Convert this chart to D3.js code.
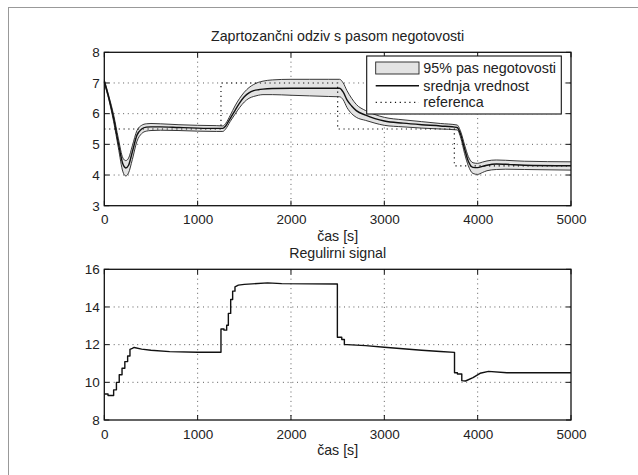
<!DOCTYPE html>
<html><head><meta charset="utf-8">
<script src="https://cdn.jsdelivr.net/npm/d3@7/dist/d3.min.js"></script>
<style>body{margin:0;background:#fff}svg{display:block}text{font-family:"Liberation Sans",Arial,sans-serif;fill:#222}</style>
</head><body><svg id="c" width="638" height="475"></svg>
<script>
// ---- Top plot data (closed-loop response with 95% band) ----
const tResp = [0,50,100,150,200,230,260,300,350,400,450,500,600,800,1000,1200,1270,1300,1350,1400,1450,1500,1550,1600,1650,1700,1800,2000,2200,2400,2520,2560,2600,2650,2700,2800,2900,3000,3200,3400,3600,3780,3820,3860,3900,3950,4000,4050,4100,4200,4300,4500,5000];
const meanResp = [7.05,6.5,5.85,5.05,4.35,4.23,4.32,4.75,5.3,5.5,5.56,5.57,5.57,5.55,5.53,5.52,5.52,5.6,5.85,6.1,6.35,6.55,6.68,6.75,6.78,6.8,6.82,6.83,6.83,6.83,6.83,6.7,6.45,6.25,6.1,5.95,5.84,5.76,5.69,5.64,5.6,5.55,5.3,4.85,4.45,4.25,4.24,4.28,4.32,4.36,4.35,4.32,4.3];
const upperResp = [7.1,6.56,5.96,5.2,4.55,4.47,4.55,4.95,5.45,5.62,5.67,5.68,5.67,5.64,5.62,5.61,5.6,5.68,5.95,6.25,6.5,6.7,6.85,6.95,7.02,7.06,7.1,7.12,7.12,7.12,7.12,7.0,6.75,6.5,6.3,6.1,5.97,5.88,5.8,5.74,5.68,5.63,5.4,4.98,4.6,4.4,4.38,4.42,4.46,4.49,4.48,4.45,4.43];
const lowerResp = [7.0,6.44,5.74,4.9,4.1,3.97,4.07,4.5,5.1,5.35,5.43,5.45,5.46,5.45,5.43,5.42,5.42,5.5,5.75,5.98,6.2,6.38,6.5,6.56,6.6,6.62,6.62,6.6,6.58,6.56,6.55,6.45,6.2,6.0,5.88,5.78,5.69,5.62,5.57,5.53,5.5,5.47,5.2,4.7,4.3,4.05,4.02,4.08,4.14,4.18,4.19,4.18,4.16];
// reference (step changes)
const tRef = [0,1250,1250,2500,2500,3750,3750,5000];
const refVal = [5.5,5.5,7,7,5.5,5.5,4.3,4.3];

// ---- Bottom plot data (control signal) ----
const tCtrl = [0,40,40,100,100,130,130,160,160,190,190,220,220,250,250,275,275,300,320,400,500,700,1000,1250,1250,1282,1282,1311,1311,1329,1329,1354,1354,1375,1375,1400,1400,1436,1500,1750,1900,2497,2497,2544,2544,2572,2572,2600,2800,3000,3200,3400,3600,3752,3752,3783,3783,3830,3830,3870,3950,4026,4116,4313,5000];
const uCtrl = [9.38,9.38,9.3,9.3,9.6,9.6,10.0,10.0,10.4,10.4,10.75,10.75,11.1,11.1,11.4,11.4,11.75,11.8,11.85,11.76,11.7,11.63,11.6,11.6,12.83,12.83,12.77,12.77,13.03,13.03,13.66,13.66,14.4,14.4,14.84,14.84,15.07,15.16,15.2,15.28,15.24,15.22,12.39,12.39,12.27,12.27,12.0,12.0,11.95,11.86,11.78,11.7,11.64,11.59,10.51,10.51,10.44,10.44,10.09,10.07,10.25,10.48,10.58,10.51,10.51];

const xTicks = [0,1000,2000,3000,4000,5000];
const yTicksTop = [3,4,5,6,7,8];
const yTicksBot = [8,10,12,14,16];

const titleTop = "Zaprtozančni odziv s pasom negotovosti";
const titleBot = "Regulirni signal";
const xLabel = "čas [s]";
const legendLabels = ["95% pas negotovosti","srednja vrednost","referenca"];

const svg = d3.select("#c");
// figure frame lines
svg.append("line").attr("x1",8).attr("y1",7.5).attr("x2",638).attr("y2",7.5).attr("stroke","#999").attr("stroke-width",1);
svg.append("line").attr("x1",8.5).attr("y1",7).attr("x2",8.5).attr("y2",475).attr("stroke","#999").attr("stroke-width",1);

const L = 104.3, R = 571;
const x = d3.scaleLinear().domain([0,5000]).range([L,R]);
const yT = d3.scaleLinear().domain([3,8]).range([205.7,52.3]);
const yB = d3.scaleLinear().domain([8,16]).range([420,269.3]);

function drawAxes(y, yTicks, top, bottom){
  const g = svg.append("g");
  xTicks.slice(1,-1).forEach(v=>{
    g.append("line").attr("x1",x(v)).attr("x2",x(v)).attr("y1",top).attr("y2",bottom)
     .attr("stroke","#333").attr("stroke-width",0.8).attr("stroke-dasharray","1,3.7");
  });
  yTicks.slice(1,-1).forEach(v=>{
    g.append("line").attr("x1",L).attr("x2",R).attr("y1",y(v)).attr("y2",y(v))
     .attr("stroke","#333").attr("stroke-width",0.8).attr("stroke-dasharray","1,3.7");
  });
  return g;
}
function drawFrame(y, yTicks, top, bottom){
  const g = svg.append("g");
  const tl = 5;
  xTicks.forEach(v=>{
    g.append("line").attr("x1",x(v)).attr("x2",x(v)).attr("y1",bottom).attr("y2",bottom-tl).attr("stroke","#111");
    g.append("line").attr("x1",x(v)).attr("x2",x(v)).attr("y1",top).attr("y2",top+tl).attr("stroke","#111");
  });
  yTicks.forEach(v=>{
    g.append("line").attr("x1",L).attr("x2",L+tl).attr("y1",y(v)).attr("y2",y(v)).attr("stroke","#111");
    g.append("line").attr("x1",R).attr("x2",R-tl).attr("y1",y(v)).attr("y2",y(v)).attr("stroke","#111");
  });
  g.append("rect").attr("x",L).attr("y",top).attr("width",R-L).attr("height",bottom-top)
   .attr("fill","none").attr("stroke","#111").attr("stroke-width",1.3);
  const xa = d3.axisBottom(x).tickValues(xTicks).tickSize(0).tickPadding(0).tickFormat(d3.format("d"));
  const ga = svg.append("g").attr("transform",`translate(0,${bottom+9})`).call(xa);
  ga.select(".domain").remove();
  ga.selectAll("text").attr("font-size","13.5px").attr("fill","#222").attr("dy","0.71em").style("font-family","Liberation Sans, Arial, sans-serif");
  const ya = d3.axisLeft(y).tickValues(yTicks).tickSize(0).tickPadding(0).tickFormat(d3.format("d"));
  const gy = svg.append("g").attr("transform",`translate(${L-4.5},0)`).call(ya);
  gy.select(".domain").remove();
  gy.selectAll("text").attr("font-size","13.5px").attr("fill","#222").style("font-family","Liberation Sans, Arial, sans-serif");
}

// ---- Top plot ----
drawAxes(yT, yTicksTop, 52.3, 205.7);
const idx = d3.range(tResp.length);
const area = d3.area().x(i=>x(tResp[i])).y0(i=>yT(lowerResp[i])).y1(i=>yT(upperResp[i])).curve(d3.curveMonotoneX);
svg.append("path").attr("d",area(idx)).attr("fill","#e3e3e3").attr("stroke","none");
const lineU = d3.line().x(i=>x(tResp[i])).y(i=>yT(upperResp[i])).curve(d3.curveMonotoneX);
const lineL = d3.line().x(i=>x(tResp[i])).y(i=>yT(lowerResp[i])).curve(d3.curveMonotoneX);
const lineM = d3.line().x(i=>x(tResp[i])).y(i=>yT(meanResp[i])).curve(d3.curveMonotoneX);
svg.append("path").attr("d",lineU(idx)).attr("fill","none").attr("stroke","#222").attr("stroke-width",0.9);
svg.append("path").attr("d",lineL(idx)).attr("fill","none").attr("stroke","#222").attr("stroke-width",0.9);
const rIdx = d3.range(tRef.length);
const lineR = d3.line().x(i=>x(tRef[i])).y(i=>yT(refVal[i]));
svg.append("path").attr("d",lineR(rIdx)).attr("fill","none").attr("stroke","#111").attr("stroke-width",1.2).attr("stroke-dasharray","1.2,3.6");
svg.append("path").attr("d",lineM(idx)).attr("fill","none").attr("stroke","#111").attr("stroke-width",1.4);
drawFrame(yT, yTicksTop, 52.3, 205.7);

// legend
const lg = svg.append("g");
lg.append("rect").attr("x",366.7).attr("y",56).attr("width",194.6).attr("height",58).attr("fill","#fff").attr("stroke","#111").attr("stroke-width",1.1);
lg.append("rect").attr("x",375.7).attr("y",62).attr("width",43.3).attr("height",12).attr("fill","#e3e3e3").attr("stroke","#222").attr("stroke-width",0.9);
lg.append("line").attr("x1",375.7).attr("x2",419).attr("y1",85.7).attr("y2",85.7).attr("stroke","#111").attr("stroke-width",1.4);
lg.append("line").attr("x1",375.7).attr("x2",419).attr("y1",102.3).attr("y2",102.3).attr("stroke","#111").attr("stroke-width",1.2).attr("stroke-dasharray","1.2,3.6");
[68.3,85.7,102.3].forEach((yy,i)=>{
  lg.append("text").attr("x",423.3).attr("y",yy).attr("dy","0.35em").attr("font-size","14.3px").text(legendLabels[i]);
});

// titles / labels
svg.append("text").attr("x",(L+R)/2).attr("y",36).attr("dy","0.35em").attr("text-anchor","middle").attr("font-size","14.2px").text(titleTop);
svg.append("text").attr("x",(L+R)/2).attr("y",236.5).attr("dy","0.35em").attr("text-anchor","middle").attr("font-size","14.2px").text(xLabel);
svg.append("text").attr("x",(L+R)/2).attr("y",253).attr("dy","0.35em").attr("text-anchor","middle").attr("font-size","14.2px").text(titleBot);

// ---- Bottom plot ----
drawAxes(yB, yTicksBot, 269.3, 420);
const cIdx = d3.range(tCtrl.length);
const lineC = d3.line().x(i=>x(tCtrl[i])).y(i=>yB(uCtrl[i]));
svg.append("path").attr("d",lineC(cIdx)).attr("fill","none").attr("stroke","#111").attr("stroke-width",1.4).attr("stroke-linejoin","round");
drawFrame(yB, yTicksBot, 269.3, 420);
svg.append("text").attr("x",(L+R)/2).attr("y",450).attr("dy","0.35em").attr("text-anchor","middle").attr("font-size","14.2px").text(xLabel);
</script></body></html>
